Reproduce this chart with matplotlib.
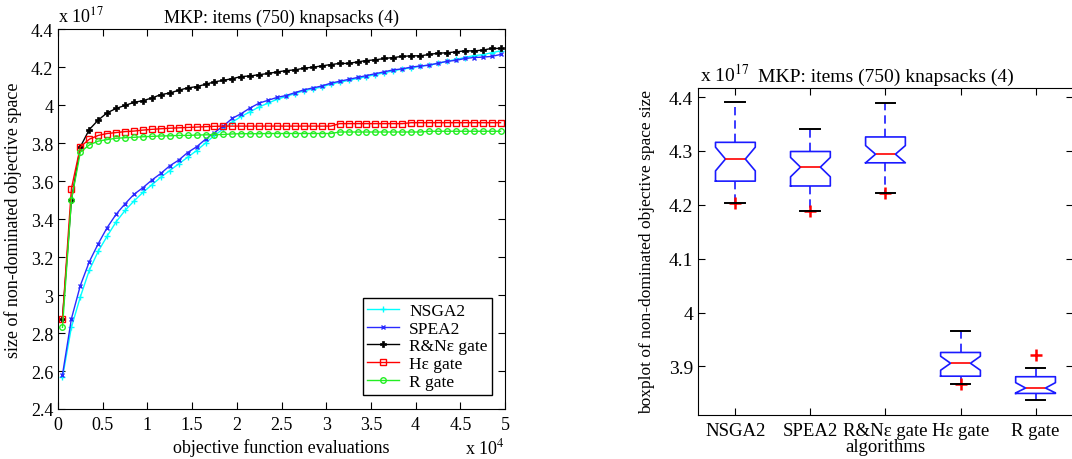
import numpy as np
import matplotlib
matplotlib.use("Agg")
import matplotlib.pyplot as plt

plt.rcParams["font.family"] = ["Liberation Serif", "DejaVu Serif"]
plt.rcParams["mathtext.fontset"] = "stix"

# evaluations (x 10^4), one sample every 1000 evaluations
evals = np.arange(0.05, 5.0, 0.1)

# size of non-dominated objective space (x 10^17)
nsga2 = [2.566, 2.83, 2.99, 3.13, 3.23, 3.31, 3.385, 3.445, 3.495, 3.54,
         3.58, 3.62, 3.655, 3.69, 3.725, 3.76, 3.80, 3.84, 3.875, 3.91,
         3.94, 3.965, 3.99, 4.01, 4.03, 4.045, 4.06, 4.075, 4.085, 4.095,
         4.11, 4.12, 4.13, 4.14, 4.15, 4.16, 4.17, 4.18, 4.19, 4.195,
         4.205, 4.21, 4.22, 4.23, 4.24, 4.25, 4.26, 4.265, 4.275, 4.285]
spea2 = [2.58, 2.875, 3.05, 3.175, 3.27, 3.355, 3.425, 3.48, 3.53, 3.565,
         3.605, 3.64, 3.68, 3.71, 3.75, 3.78, 3.82, 3.855, 3.89, 3.93,
         3.955, 3.985, 4.01, 4.025, 4.04, 4.05, 4.065, 4.08, 4.09, 4.10,
         4.115, 4.125, 4.135, 4.145, 4.155, 4.165, 4.175, 4.185, 4.19, 4.20,
         4.205, 4.21, 4.22, 4.23, 4.235, 4.245, 4.25, 4.252, 4.256, 4.266]
rn_gate = [2.875, 3.50, 3.78, 3.871, 3.921, 3.959, 3.982, 3.998, 4.014, 4.023,
           4.037, 4.055, 4.063, 4.078, 4.090, 4.097, 4.109, 4.122, 4.130, 4.139,
           4.150, 4.153, 4.160, 4.166, 4.174, 4.181, 4.185, 4.194, 4.199, 4.206,
           4.213, 4.219, 4.219, 4.227, 4.234, 4.238, 4.245, 4.250, 4.256, 4.259,
           4.259, 4.266, 4.273, 4.275, 4.280, 4.285, 4.285, 4.289, 4.298, 4.298]
he_gate = [2.875, 3.56, 3.78, 3.82, 3.84, 3.85, 3.855, 3.86, 3.863, 3.868,
           3.872, 3.875, 3.878, 3.88, 3.882, 3.884, 3.886, 3.888, 3.889, 3.889,
           3.889, 3.889, 3.889, 3.889, 3.889, 3.889, 3.889, 3.889, 3.889, 3.889,
           3.889, 3.902, 3.902, 3.902, 3.902, 3.902, 3.902, 3.902, 3.902, 3.907,
           3.907, 3.907, 3.907, 3.907, 3.907, 3.907, 3.907, 3.907, 3.907, 3.907]
r_gate = [2.83, 3.50, 3.752, 3.79, 3.81, 3.818, 3.825, 3.828, 3.83, 3.833,
          3.835, 3.837, 3.838, 3.84, 3.84, 3.842, 3.843, 3.844, 3.845, 3.848,
          3.849, 3.849, 3.849, 3.850, 3.850, 3.850, 3.850, 3.850, 3.850, 3.850,
          3.850, 3.858, 3.858, 3.858, 3.858, 3.858, 3.858, 3.858, 3.858, 3.858,
          3.858, 3.862, 3.862, 3.862, 3.862, 3.862, 3.862, 3.862, 3.862, 3.862]

algorithms = ["NSGA2", "SPEA2", "R&Nε gate", "Hε gate", "R gate"]
# boxplot statistics of final space size (x 10^17)
box_q1 = [4.244, 4.235, 4.278, 3.882, 3.850]
box_med = [4.285, 4.270, 4.294, 3.906, 3.860]
box_q3 = [4.316, 4.299, 4.326, 3.926, 3.881]
box_lo = [4.203, 4.189, 4.222, 3.867, 3.837]
box_hi = [4.390, 4.341, 4.389, 3.966, 3.898]
notch_lo = [4.263, 4.252, 4.278, 3.893, 3.851]
notch_hi = [4.307, 4.288, 4.310, 3.919, 3.870]
outliers = [[4.203], [4.189], [4.222], [3.867], [3.922]]

fig = plt.figure(figsize=(10.72, 4.6), dpi=100)

# ---- convergence curves ----
ax = fig.add_axes([0.0541, 0.1087, 0.417, 0.826])
ax.plot(evals, nsga2, color="cyan", marker="+", ms=5, lw=1, label="NSGA2")
ax.plot(evals, spea2, color="#2a2aff", marker="x", ms=3, lw=1, label="SPEA2")
ax.plot(evals, rn_gate, color="black", marker="P", ms=4, mew=0.5, lw=1,
        label="R&Nε gate")
ax.plot(evals, he_gate, color="red", marker="s", ms=4, mfc="none", lw=1,
        label="Hε gate")
ax.plot(evals, r_gate, color="#22ee22", marker="o", ms=4, mfc="none", lw=1,
        label="R gate")

ax.set_xlim(0, 5)
ax.set_ylim(2.4, 4.4)
ax.set_xticks(np.arange(0, 5.01, 0.5))
ax.set_xticklabels(["0", "0.5", "1", "1.5", "2", "2.5", "3", "3.5", "4", "4.5", "5"])
ax.set_yticks(np.arange(2.4, 4.41, 0.2))
ax.set_yticklabels(["2.4", "2.6", "2.8", "3", "3.2", "3.4", "3.6", "3.8", "4", "4.2", "4.4"])
ax.tick_params(direction="in", top=True, right=True, labelsize=13, length=5)
ax.tick_params(axis="x", pad=5)
ax.set_xlabel("objective function evaluations", fontsize=13, labelpad=4)
ax.set_ylabel("size of non-dominated objective space", fontsize=13, labelpad=6)
ax.set_title("MKP: items (750) knapsacks (4)", fontsize=13, pad=5)
ax.text(0.0, 1.01, r"x 10$^{17}$", transform=ax.transAxes, fontsize=13,
        ha="left", va="bottom")
ax.text(1.0, -0.075, r"x 10$^{4}$", transform=ax.transAxes, fontsize=13,
        ha="right", va="top")
leg = ax.legend(loc="lower right", fontsize=12.5, fancybox=False,
                edgecolor="black", framealpha=1, handlelength=1.8,
                handletextpad=0.6, borderpad=0.25, labelspacing=0.1,
                bbox_to_anchor=(0.99, 0.015))
leg.get_frame().set_linewidth(1)

# ---- final boxplots ----
bx = fig.add_axes([0.651, 0.0957, 0.35, 0.711])
stats = []
for i, name in enumerate(algorithms):
    stats.append(dict(label=name, q1=box_q1[i], med=box_med[i], q3=box_q3[i],
                      whislo=box_lo[i], whishi=box_hi[i], cilo=notch_lo[i],
                      cihi=notch_hi[i], fliers=outliers[i]))
bx.bxp(stats, positions=range(1, 6), widths=0.53, shownotches=True,
       boxprops=dict(color="#1a1aff", lw=1.2),
       whiskerprops=dict(color="#1a1aff", lw=1.2, ls=(0, (5, 3))),
       capprops=dict(color="black", lw=1.4, zorder=4),
       medianprops=dict(color="red", lw=1.2),
       flierprops=dict(marker="+", markeredgecolor="red", markersize=8,
                       markeredgewidth=1.8))
bx.set_xlim(0.5, 5.5)
bx.set_ylim(3.81, 4.417)
bx.set_yticks([3.9, 4.0, 4.1, 4.2, 4.3, 4.4])
bx.set_yticklabels(["3.9", "4", "4.1", "4.2", "4.3", "4.4"])
bx.tick_params(direction="in", top=True, right=True, labelsize=14, length=5)
bx.tick_params(axis="x", labelsize=13.5, pad=5)
bx.set_xlabel("algorithms", fontsize=13.5, labelpad=-1)
bx.set_ylabel("boxplot of non-dominated objective space size", fontsize=12.5,
              labelpad=10)
bx.set_title("MKP: items (750) knapsacks (4)", fontsize=14, pad=5)
bx.text(0.005, 1.01, r"x 10$^{17}$", transform=bx.transAxes, fontsize=14,
        ha="left", va="bottom")

fig.savefig("out.png", dpi=100)
